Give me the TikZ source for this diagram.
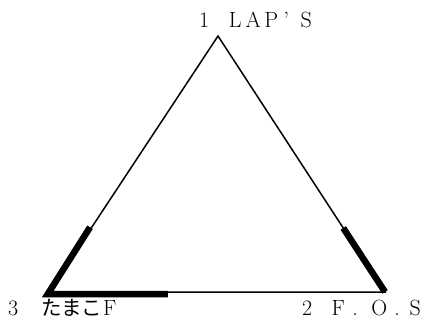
\documentclass[tikz,border=0pt]{standalone}
\usepackage{fontspec}
\newfontfamily\cjk{Noto Sans CJK JP}
\usetikzlibrary{calc}
\newcommand\cellbox[2]{\makebox[#1][c]{#2}}
\newcommand\dotcell[2]{\makebox[#1][l]{\hspace{#2}.}}
\tikzset{
  thinline/.style={line width=1.5pt},
  thickline/.style={line width=6.5pt, line cap=butt, line join=miter},
  lbl/.style={inner sep=0pt, anchor=base west, font=\fontsize{22}{26}\selectfont}
}
\begin{document}
\begin{tikzpicture}[x=1pt,y=-1pt]
\useasboundingbox (0,0) rectangle (427,325);
\coordinate (A) at (218,36);
\coordinate (B) at (49,292);
\coordinate (C) at (385,292);
\draw[thinline, line join=miter] (A) -- (B) -- (C) -- cycle;
\draw[thickline] ($(B)!0.25!(A)+(-1.2,-0.8)$) -- ($(B)+(-1.2,2)$) -- ($(B)!0.354!(C)+(0,2)$);
\draw[thickline] ($(C)!0.25!(A)$) -- (C);
\node[lbl] (n1) at (199,27) {1\hspace{17pt}\cellbox{18pt}{L}\cellbox{18pt}{A}\cellbox{18pt}{P}\cellbox{12pt}{’}\cellbox{28pt}{S}};
\node[lbl] (n2) at (302,315) {2\hspace{17pt}\cellbox{18pt}{F}\dotcell{22pt}{5pt}\cellbox{20pt}{O}\dotcell{14pt}{5pt}\cellbox{24pt}{S}};
\node[lbl] (n3) at (8,315) {3\hspace{23pt}{\cjk\fontsize{20.5}{24}\selectfont たまこ}\hspace{1pt}F};
\end{tikzpicture}
\end{document}
